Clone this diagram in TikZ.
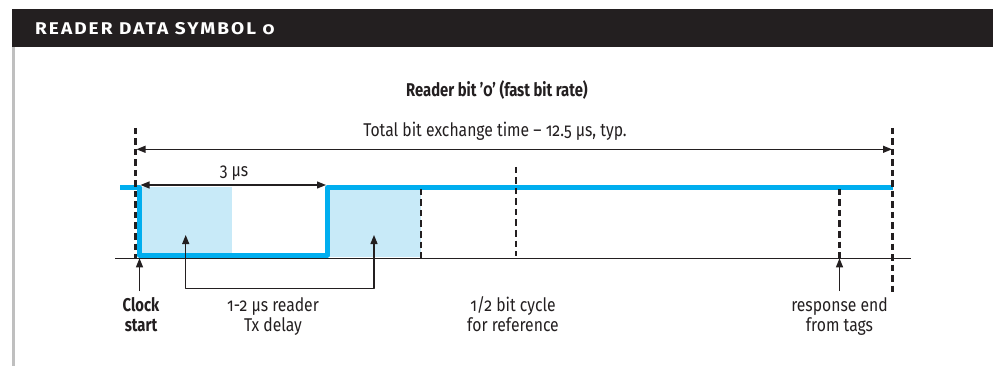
\documentclass[tikz,border=0pt]{standalone}
\usepackage{fontspec}
\setmainfont{Fira Sans}[Numbers=OldStyle,FakeStretch=0.85,BoldFeatures={FakeStretch=0.8}]
\newfontfamily\headfont{Fira Sans}[Numbers=OldStyle,FakeStretch=1.12,LetterSpace=12]
\usetikzlibrary{arrows.meta}
\definecolor{sigblue}{HTML}{00AEEF}
\definecolor{fillblue}{HTML}{C8EAF8}
\definecolor{inkgray}{HTML}{231F20}
\newcommand\lblfont{\fontsize{18.5}{20}\selectfont}
\tikzset{
  lbl/.style={font=\lblfont, text=inkgray, align=center, inner sep=0pt, anchor=base},
  thinln/.style={draw=inkgray, line width=1.2pt},
  marker/.style={draw=inkgray, line width=2.6pt, dash pattern=on 6.5pt off 4pt},
  wave/.style={draw=sigblue, line width=4.5pt}
}
\begin{document}
\begin{tikzpicture}[x=1pt, y=-1pt, line join=round, >={Triangle[length=9pt,width=7pt]}]
\useasboundingbox (0,0) rectangle (993,366);
% header bar and side rule
\fill[inkgray] (12,9) rectangle (993,47);
\fill[black!25] (12,47) rectangle (15,366);
\node[anchor=base west, text=white, inner sep=0pt, font=\headfont\bfseries\fontsize{17}{19}\selectfont] (head) at (35,34.5) {READER DATA SYMBOL 0};
\node[lbl, font=\lblfont\bfseries] (title) at (497,97) {Reader bit ’0’ (fast bit rate)};

% time marks
\coordinate (start) at (135.7,128);
\coordinate (stop) at (892.5,128);
\coordinate (clk) at (139.5,258.3);
\coordinate (rise) at (327.5,187.5);
\coordinate (half) at (516,167);
\coordinate (resp) at (839.5,258.3);

% shaded delay windows
\fill[fillblue] (139.5,187.5) rectangle (232,257);
\fill[fillblue] (rise) rectangle (421,257);

% axis
\draw[thinln] (115,258.3) -- (911,258.3);

% reader signal
\draw[wave] (120,187.5) -- (139.5,187.5) -- (139.5,255.3) -- (327.5,255.3) -- (rise) -- (892.5,187.5);

% dashed markers
\draw[marker] (start) -- (135.7,258);
\draw[marker] (stop) -- (892.5,292);
\draw[marker] (421,189) -- (421,258);
\draw[marker] (half) -- (516,256);
\draw[marker] (839.5,189) -- (resp);

% total time
\coordinate (t0) at (136.5,149.3);
\coordinate (t1) at (892,149.3);
\draw[thinln, <->] (t0) -- (t1);
\node[lbl] (total) at (495,137) {Total bit exchange time – 12.5 µs, typ.};

% 3 us
\coordinate (a0) at (140.5,185);
\coordinate (a1) at (326,185);
\draw[thinln, <->] (a0) -- (a1);
\node[lbl] (three) at (234,177) {3 µs};

% clock start
\coordinate (clkfoot) at (139.5,291);
\draw[thinln, ->] (clkfoot) -- (clk);
\node[lbl, font=\lblfont\bfseries] (clock) at (141,331.7) {Clock\\start};

% Tx delay bracket
\coordinate (d0) at (185.7,235);
\coordinate (d1) at (374,235);
\draw[thinln, <->] (d0) -- (185.7,288.3) -- (374,288.3) -- (d1);
\node[lbl] (delay) at (273,331.7) {1-2 µs reader\\Tx delay};

% half bit
\node[lbl] (halfbit) at (513,331.7) {1/2 bit cycle\\for reference};

% response end
\coordinate (respfoot) at (839.5,291);
\draw[thinln, ->] (respfoot) -- (resp);
\node[lbl] (respend) at (839.5,331.7) {response end\\from tags};
\end{tikzpicture}
\end{document}
